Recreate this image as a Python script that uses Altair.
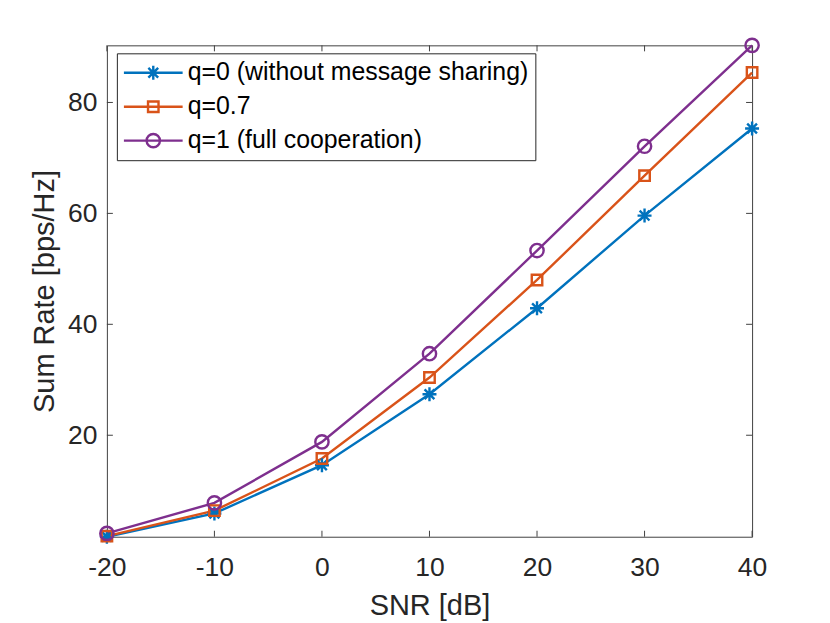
import altair as alt
import pandas as pd

# ---- data ----
snr = [-20, -10, 0, 10, 20, 30, 40]
rate_q0 = [1.7, 5.9, 14.6, 27.4, 42.9, 59.6, 75.3]
rate_q07 = [1.8, 6.4, 15.8, 30.4, 48.0, 66.8, 85.4]
rate_q1 = [2.3, 7.8, 18.8, 34.7, 53.3, 72.1, 90.3]
series_names = ["q=0 (without message sharing)", "q=0.7", "q=1 (full cooperation)"]
series_colors = ["#0072BD", "#D95319", "#7E2F8E"]
x_ticks = [-20, -10, 0, 10, 20, 30, 40]
y_ticks = [20, 40, 60, 80]

rows = []
for name, vals in zip(series_names, [rate_q0, rate_q07, rate_q1]):
    for xv, v in zip(snr, vals):
        rows.append({"snr": xv, "rate": v, "series": name})
df = pd.DataFrame(rows)

W, H = 646, 492
TICK = 6
FONT = "Liberation Sans"
TXT = "#262626"
AX = "#404040"
LW = 2.4

all_vals = rate_q0 + rate_q07 + rate_q1
x_scale = alt.Scale(domain=[min(snr), max(snr)], nice=False, zero=False)
y_scale = alt.Scale(domain=[min(all_vals), max(all_vals)], nice=False, zero=False)

x_axis = alt.Axis(values=x_ticks, title="SNR [dB]", ticks=False, tickSize=0, domain=False,
                  grid=False, labelPadding=18, titlePadding=10, labelFlush=False,
                  labelOverlap=False, labelExpr="'' + datum.value")
y_axis = alt.Axis(values=y_ticks, title="Sum Rate [bps/Hz]", ticks=False, tickSize=0, domain=False,
                  grid=False, labelPadding=10, titlePadding=8, labelFlush=False,
                  labelOverlap=False, labelExpr="'' + datum.value")

X = alt.X("snr:Q", scale=x_scale, axis=x_axis)
Y = alt.Y("rate:Q", scale=y_scale, axis=y_axis)

marker_star = "M0,-1V1M-1,0H1M-0.7,-0.7L0.7,0.7M-0.7,0.7L0.7,-0.7"
marker_square = "M-0.75,-0.75H0.75V0.75H-0.75Z"
marker_circle = "M0.95,0A0.95,0.95,0,1,1,-0.95,0A0.95,0.95,0,1,1,0.95,0Z"
marker_paths = [marker_star, marker_square, marker_circle]
legend_line = "M-4.2,0H4.2"
legend_paths = [legend_line + p for p in marker_paths]

color_plain = alt.Color("series:N", scale=alt.Scale(domain=series_names, range=series_colors), legend=None)

lines = alt.Chart(df).mark_line(strokeWidth=LW).encode(
    x=X, y=Y, color=color_plain, order=alt.Order("snr:Q"))

points = alt.Chart(df).mark_point(filled=False, size=196, strokeWidth=LW, opacity=1).encode(
    x=X, y=Y, color=color_plain,
    shape=alt.Shape("series:N", scale=alt.Scale(domain=series_names, range=marker_paths), legend=None))

leg = alt.Legend(title=None, orient="none", legendX=10, legendY=8, padding=7,
                 strokeColor=TXT, fillColor="white", labelFont=FONT, labelFontSize=24.9,
                 labelColor="#000000", labelLimit=1000, symbolSize=196, symbolStrokeWidth=LW,
                 symbolOffset=17, labelOffset=22, rowPadding=8, cornerRadius=0)

legend_layer = alt.Chart(df).transform_filter("false").mark_point(
    filled=False, size=196, strokeWidth=LW, opacity=1).encode(
    x=X, y=Y,
    color=alt.Color("series:N", scale=alt.Scale(domain=series_names, range=series_colors), legend=leg),
    shape=alt.Shape("series:N", scale=alt.Scale(domain=series_names, range=legend_paths), legend=leg))

xt = pd.DataFrame({"snr": x_ticks})
yt = pd.DataFrame({"rate": y_ticks})
tick_bottom = alt.Chart(xt).mark_rule(color=AX, strokeWidth=1).encode(
    x=X, y=alt.value(H), y2=alt.value(H - TICK))
tick_top = alt.Chart(xt).mark_rule(color=AX, strokeWidth=1).encode(
    x=X, y=alt.value(0), y2=alt.value(TICK))
tick_left = alt.Chart(yt).mark_rule(color=AX, strokeWidth=1).encode(
    y=Y, x=alt.value(0), x2=alt.value(TICK))
tick_right = alt.Chart(yt).mark_rule(color=AX, strokeWidth=1).encode(
    y=Y, x=alt.value(W), x2=alt.value(W - TICK))

chart = alt.layer(
    tick_bottom, tick_top, tick_left, tick_right, lines, points, legend_layer
).resolve_scale(
    color="independent", shape="independent"
).properties(
    width=W, height=H,
    padding={"left": 99, "top": 37, "right": 70, "bottom": 92},
    autosize=alt.AutoSizeParams(type="none"),
    background="white",
).configure(
    font=FONT,
).configure_view(
    stroke=AX, strokeWidth=1
).configure_axis(
    labelFont=FONT, titleFont=FONT, labelFontSize=26.5, titleFontSize=29,
    labelColor=TXT, titleColor=TXT, titleFontWeight="normal",
)

chart.save("out.html", embed_options={"renderer": "svg", "actions": False})
